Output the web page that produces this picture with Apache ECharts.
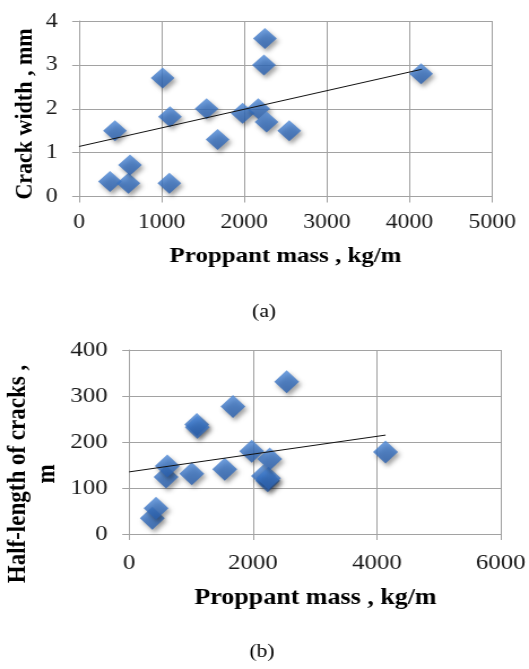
<!DOCTYPE html>
<html>
<head>
<meta charset="utf-8">
<script src="https://cdn.jsdelivr.net/npm/echarts@6/dist/echarts.min.js"></script>
<style>
  html, body { margin: 0; padding: 0; background: #ffffff; overflow: hidden; }
  #wrap { width: 529px; height: 669px; overflow: hidden; }
  #chart { width: 468px; height: 669px; transform: scaleX(1.1303); transform-origin: 0 0; }
</style>
</head>
<body>
<div id="wrap"><div id="chart"></div></div>
<script>
// ---- data ----
const proppantMass = [375, 435, 597, 617, 1012, 1093, 1101, 1544, 1677, 1980, 2169, 2238, 2250, 2270, 2544, 4140];
const crackWidth   = [0.34, 1.5, 0.3, 0.72, 2.7, 0.3, 1.82, 2.0, 1.3, 1.9, 2.0, 3.0, 3.6, 1.7, 1.5, 2.8];
const halfLength   = [34, 56, 124, 148, 131, 238, 232, 141, 277, 180, 126, 116, 121, 163, 331, 178];
const widthTrendX  = [0, 4150];
const widthTrendY  = [1.14, 2.90];
const lengthTrendX = [0, 4140];
const lengthTrendY = [135, 215];
const axisA = { xMin: 0, xMax: 5000, xStep: 1000, yMin: 0, yMax: 4, yStep: 1 };
const axisB = { xMin: 0, xMax: 6000, xStep: 2000, yMin: 0, yMax: 400, yStep: 100 };
const texts = {
  xTitle: 'Proppant mass , kg/m',
  yTitleA: 'Crack width , mm',
  yTitleB: 'Half-length of cracks ,\nm',
  capA: '(a)',
  capB: '(b)'
};

const pairs = (xs, ys) => xs.map((x, i) => [x, ys[i]]);

const chart = echarts.init(document.getElementById('chart'), null, { renderer: 'canvas' });
const FONT = "'Liberation Serif', 'Times New Roman', Times, serif";
const gridColor = '#a2a2a2';

const diamondStyle = {
  color: new echarts.graphic.LinearGradient(0, 0, 0, 1, [
    { offset: 0, color: '#4f8ad8' },
    { offset: 0.5, color: '#3872c2' },
    { offset: 1, color: '#295fae' }
  ]),
  shadowBlur: 4,
  shadowColor: 'rgba(0,0,0,0.45)',
  shadowOffsetX: 2,
  shadowOffsetY: 3
};

function valueAxis(ax, isX, gridIndex, fontSize, margin) {
  return {
    type: 'value',
    gridIndex: gridIndex,
    min: isX ? ax.xMin : ax.yMin,
    max: isX ? ax.xMax : ax.yMax,
    interval: isX ? ax.xStep : ax.yStep,
    axisLine: { show: true, lineStyle: { color: gridColor, width: 1 } },
    axisTick: { show: true, length: 6, lineStyle: { color: gridColor, width: 1 } },
    splitLine: { show: true, lineStyle: { color: gridColor, width: 1 } },
    axisLabel: {
      color: '#1a1a1a', fontFamily: FONT, fontSize: fontSize, margin: margin,
      formatter: function (v) { return String(v); }
    }
  };
}

const option = {
  animation: false,
  backgroundColor: '#ffffff',
  grid: [
    { left: 69.9, top: 21, width: 365.5, height: 175.5 },
    { left: 114.2, top: 350, width: 330, height: 184 }
  ],
  xAxis: [
    valueAxis(axisA, true, 0, 21, 15),
    valueAxis(axisB, true, 1, 22, 18)
  ],
  yAxis: [
    valueAxis(axisA, false, 0, 21, 19),
    valueAxis(axisB, false, 1, 22, 19)
  ],
  series: [
    {
      type: 'scatter', xAxisIndex: 0, yAxisIndex: 0,
      symbol: 'diamond', symbolSize: [21, 21],
      data: pairs(proppantMass, crackWidth),
      itemStyle: diamondStyle, z: 2
    },
    {
      type: 'line', xAxisIndex: 0, yAxisIndex: 0,
      data: pairs(widthTrendX, widthTrendY),
      showSymbol: false, symbol: 'none',
      lineStyle: { color: '#111111', width: 1 }, z: 3
    },
    {
      type: 'scatter', xAxisIndex: 1, yAxisIndex: 1,
      symbol: 'diamond', symbolSize: [22, 23],
      data: pairs(proppantMass, halfLength),
      itemStyle: diamondStyle, z: 2
    },
    {
      type: 'line', xAxisIndex: 1, yAxisIndex: 1,
      data: pairs(lengthTrendX, lengthTrendY),
      showSymbol: false, symbol: 'none',
      lineStyle: { color: '#111111', width: 1 }, z: 3
    }
  ],
  graphic: [
    { type: 'text', x: 252.6, y: 256, style: { text: texts.xTitle, font: "bold 22px " + FONT, fill: '#000', align: 'center', verticalAlign: 'middle' } },
    { type: 'text', x: 22.1, y: 114, rotation: Math.PI / 2, style: { text: texts.yTitleA, font: "bold 22px " + FONT, fill: '#000', align: 'center', verticalAlign: 'middle' } },
    { type: 'text', x: 279.1, y: 598, style: { text: texts.xTitle, font: "bold 23px " + FONT, fill: '#000', align: 'center', verticalAlign: 'middle' } },
    { type: 'text', x: 29.2, y: 474, rotation: Math.PI / 2, style: { text: texts.yTitleB, font: "bold 23px " + FONT, fill: '#000', align: 'center', verticalAlign: 'middle', lineHeight: 26.5 } },
    { type: 'text', x: 233.6, y: 312, style: { text: texts.capA, font: "19px " + FONT, fill: '#000', align: 'center', verticalAlign: 'middle' } },
    { type: 'text', x: 231.8, y: 652, style: { text: texts.capB, font: "19px " + FONT, fill: '#000', align: 'center', verticalAlign: 'middle' } }
  ]
};
chart.setOption(option);
</script>
</body>
</html>
